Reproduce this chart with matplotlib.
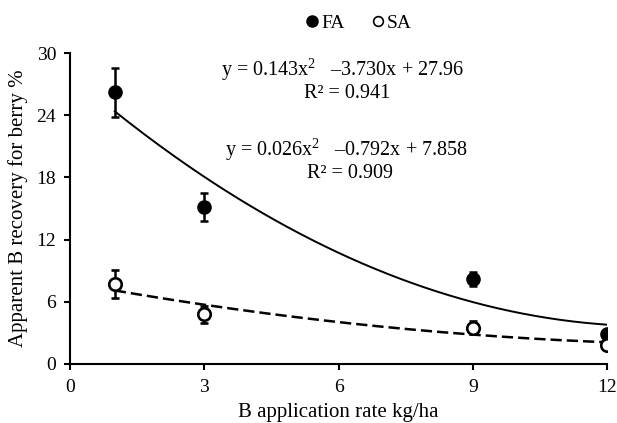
import matplotlib.pyplot as plt
from matplotlib.lines import Line2D
import numpy as np

plt.rcParams['font.family'] = ['Liberation Serif', 'DejaVu Serif']
plt.rcParams['mathtext.fontset'] = 'custom'
plt.rcParams['mathtext.rm'] = 'Liberation Serif'
plt.rcParams['mathtext.it'] = 'Liberation Serif:italic'

rate = [1, 3, 9, 12]
fa = [26.2, 15.1, 8.2, 2.9]
fa_err = [2.35, 1.35, 0.7, 0.3]
sa = [7.7, 4.8, 3.5, 1.8]
sa_err = [1.35, 0.8, 0.6, 0.2]

# quadratic fits printed on the chart
fa_coef = [0.143, -3.730, 27.96]
sa_coef = [0.026, -0.792, 7.858]

fig = plt.figure(figsize=(6.17, 4.23), dpi=100)
ax = fig.add_axes([0.1135, 0.1395, 0.8703, 0.7352])

xs = np.linspace(1, 12, 200)
ax.plot(xs, np.polyval(fa_coef, xs), color='black', lw=1.4)
ax.plot(xs, np.polyval(sa_coef, xs), color='black', lw=1.8, ls=(0, (4.5, 2)))

ax.errorbar(rate, fa, yerr=fa_err, fmt='o', ms=9.5, color='black', mfc='black',
            ecolor='black', elinewidth=1.8, capsize=3, capthick=1.8, zorder=3)
ax.errorbar(rate, sa, yerr=sa_err, fmt='o', ms=9, color='black', mfc='white',
            mew=1.9, ecolor='black', elinewidth=1.8, capsize=3, capthick=1.8, zorder=3)

ax.set_xlim(0, 12)
ax.set_ylim(0, 30)
ax.set_xticks([0, 3, 6, 9, 12])
ax.set_yticks([0, 6, 12, 18, 24, 30])
ax.spines['top'].set_visible(False)
ax.spines['right'].set_visible(False)
ax.spines['left'].set_linewidth(1.5)
ax.spines['bottom'].set_linewidth(1.5)
ax.tick_params(direction='out', length=4, width=1.5, labelsize=14)
ax.tick_params(axis='x', pad=7)
ax.tick_params(axis='y', pad=6)
ax.set_xlabel('B application rate kg/ha', fontsize=15, labelpad=5)
ax.set_ylabel('Apparent B recovery for berry %', fontsize=15, labelpad=6)

fig.text(0.556, 0.834, 'y = 0.143x$^2$   \u20133.730x + 27.96', ha='center', va='center', fontsize=14.5)
fig.text(0.562, 0.780, 'R\u00b2 = 0.941', ha='center', va='center', fontsize=14.5)
fig.text(0.561, 0.645, 'y = 0.026x$^2$   \u20130.792x + 7.858', ha='center', va='center', fontsize=14.5)
fig.text(0.567, 0.591, 'R\u00b2 = 0.909', ha='center', va='center', fontsize=14.5)

handles = [Line2D([], [], ls='none', marker='o', ms=8, color='black', mfc='black'),
           Line2D([], [], ls='none', marker='o', ms=7, color='black', mfc='white', mew=1.2)]
fig.legend(handles, ['FA', 'SA'], loc='center', bbox_to_anchor=(0.58, 0.945), ncol=2,
           frameon=False, fontsize=14, handletextpad=0.0, columnspacing=1.3, handlelength=0.9)

fig.savefig('out.png', dpi=100)
